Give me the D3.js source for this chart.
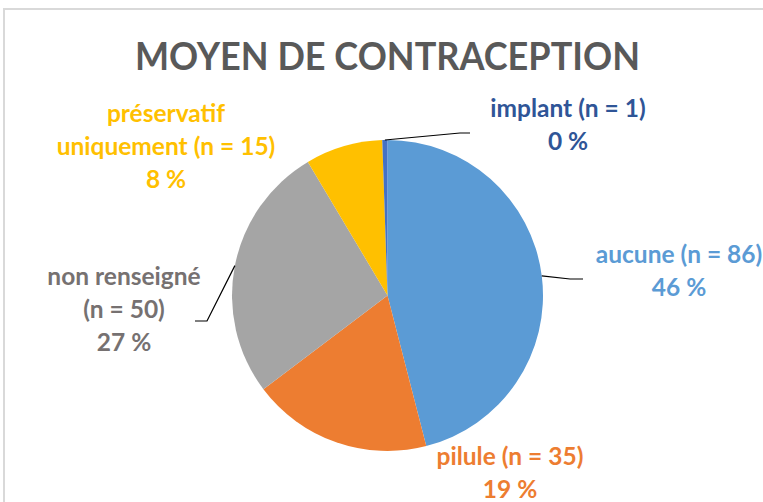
<!DOCTYPE html>
<html>
<head>
<meta charset="utf-8">
<script src="https://cdn.jsdelivr.net/npm/d3@7"></script>
<style>
  body { margin: 0; background: #fff; }
  text { font-family: Lato, "Open Sans", sans-serif; font-weight: 700; }
</style>
</head>
<body>
<div id="chart"></div>
<script>
// data
var categories = ["aucune", "pilule", "non renseigné", "préservatif uniquement", "implant"];
var counts = [86, 35, 50, 15, 1];
var percentLabels = ["46 %", "19 %", "27 %", "8 %", "0 %"];
var sliceColors = ["#5B9BD5", "#ED7D31", "#A5A5A5", "#FFC000", "#4472C4"];
var labelColors = ["#5B9BD5", "#ED7D31", "#767171", "#FFC000", "#2F5597"];
// label text split in lines, as Excel wrapped them
var labelLines = [
  ["aucune (n = 86)"],
  ["pilule (n = 35)"],
  ["non renseigné", "(n = 50)"],
  ["préservatif", "uniquement (n = 15)"],
  ["implant (n = 1)"]
];

var width = 763, height = 502;
var cx = 387.5, cy = 295.5, radius = 155.5;

// label placement (center x, first baseline) and leader lines
var labelLayout = {
  "aucune": { x: 679, y: 263, leader: [[570, 279], [583, 279]] },
  "pilule": { x: 510, y: 465, leader: null },
  "non renseigné": { x: 124, y: 285, leader: [[207, 321], [195, 321]] },
  "préservatif uniquement": { x: 166, y: 122, leader: null },
  "implant": { x: 568, y: 117, leader: [[460, 133], [470, 133]] }
};
var lineStep = 33;

var svg = d3.select("#chart").append("svg")
  .attr("width", width)
  .attr("height", height);

// chart area frame
svg.append("rect")
  .attr("x", 4).attr("y", 9)
  .attr("width", 800).attr("height", 600)
  .attr("fill", "#fff")
  .attr("stroke", "#d9d9d9")
  .attr("stroke-width", 2);

svg.append("text")
  .attr("x", cx)
  .attr("y", 70)
  .attr("text-anchor", "middle")
  .attr("fill", "#595959")
  .attr("textLength", 505)
  .attr("lengthAdjust", "spacingAndGlyphs")
  .style("font-size", "39px")
  .text("MOYEN DE CONTRACEPTION");

var rows = categories.map(function(c, i) {
  return { name: c, n: counts[i], pct: percentLabels[i], color: sliceColors[i], textColor: labelColors[i], lines: labelLines[i] };
});

var pie = d3.pie().sort(null).value(function(d) { return d.n; });
var arc = d3.arc().innerRadius(0).outerRadius(radius);
var arcs = pie(rows);

var g = svg.append("g").attr("transform", "translate(" + cx + "," + cy + ")");

g.selectAll("path.slice")
  .data(arcs)
  .enter().append("path")
  .attr("class", "slice")
  .attr("d", arc)
  .attr("fill", function(d) { return d.data.color; });

// leader lines from the slice's outer edge middle
arcs.forEach(function(d) {
  var lay = labelLayout[d.data.name];
  if (!lay.leader) return;
  var a = (d.startAngle + d.endAngle) / 2;
  var pts = [[cx + radius * Math.sin(a), cy - radius * Math.cos(a)]].concat(lay.leader);
  svg.append("path")
    .attr("d", d3.line()(pts))
    .attr("fill", "none")
    .attr("stroke", "#000")
    .attr("stroke-width", 1.2);
});

arcs.forEach(function(d) {
  var lay = labelLayout[d.data.name];
  var lines = d.data.lines.concat([d.data.pct]);
  var t = svg.append("text")
    .attr("text-anchor", "middle")
    .attr("fill", d.data.textColor)
    .style("font-size", "24.5px");
  lines.forEach(function(l, i) {
    t.append("tspan")
      .attr("x", lay.x)
      .attr("y", lay.y + i * lineStep)
      .text(l);
  });
});
</script>
</body>
</html>
